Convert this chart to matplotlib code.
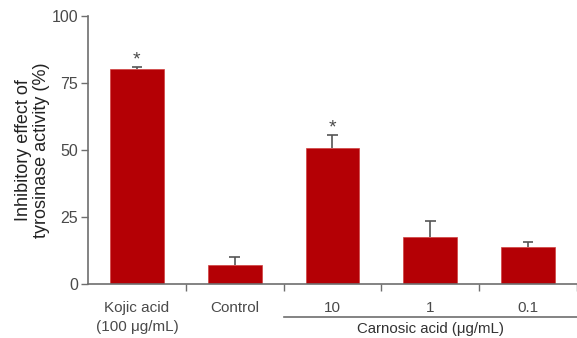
import numpy as np
import matplotlib.pyplot as plt

categories = ['Kojic acid\n(100 \u03bcg/mL)', 'Control', '10', '1', '0.1']
values = [80.3, 7.0, 50.6, 17.6, 13.9]
errors = [0.6, 2.9, 5.0, 5.7, 1.9]
significant = [True, False, True, False, False]

bar_color = '#b40005'
axis_color = '#6e6e6e'
text_color = '#4a4a4a'
err_color = '#555555'

plt.rcParams['font.family'] = ['Liberation Sans', 'DejaVu Sans']

fig = plt.figure(figsize=(5.77, 3.38), dpi=100)
ax = fig.add_axes([0.1525, 0.16, 0.8475, 0.7927])

x = np.arange(len(categories))
vals = np.array(values)
tops = vals + np.array(errors)

ax.bar(x, vals, width=0.55, color=bar_color, edgecolor='#d04040', linewidth=0.5, zorder=2)
# upper-only error bars
ax.vlines(x, vals, tops, color=err_color, lw=1.2, zorder=3)
ax.hlines(tops, x - 0.055, x + 0.055, color=err_color, lw=1.2, zorder=3)

for i, (t, s) in enumerate(zip(tops, significant)):
  if s:
    ax.text(i, t - 0.5, '*', ha='center', va='bottom', fontsize=14, color=text_color)

ax.set_xlim(-0.5, 4.5)
ax.set_ylim(0, 100)
ax.set_yticks([0, 25, 50, 75, 100])
ax.tick_params(axis='y', direction='out', length=5, width=1, color=axis_color,
               labelcolor=text_color, labelsize=11.5, pad=2)

# category labels sit between boundary ticks
ax.set_xticks(x + 0.5)
ax.set_xticklabels([])
ax.set_xticks(x, minor=True)
ax.set_xticklabels(categories, minor=True, linespacing=1.45)
ax.tick_params(axis='x', which='major', direction='out', length=5, width=1, color=axis_color)
ax.tick_params(axis='x', which='minor', length=0, labelcolor=text_color, labelsize=11, pad=12)

for side in ['top', 'right']:
  ax.spines[side].set_visible(False)
for side in ['left', 'bottom']:
  ax.spines[side].set_color(axis_color)
  ax.spines[side].set_linewidth(1.2)

ax.set_ylabel('Inhibitory effect of\ntyrosinase activity (%)', fontsize=13,
              color='#222222', labelpad=1, linespacing=1.12)

# bracket for the carnosic acid group
ax.plot([1.5, 4.5], [-0.124, -0.124], color=axis_color, lw=1.2, clip_on=False,
        transform=ax.get_xaxis_transform())
ax.text(3, -0.168, 'Carnosic acid (\u03bcg/mL)', ha='center', va='center', fontsize=10.8,
        color='#333333', transform=ax.get_xaxis_transform())

plt.savefig('out.png', dpi=100)
